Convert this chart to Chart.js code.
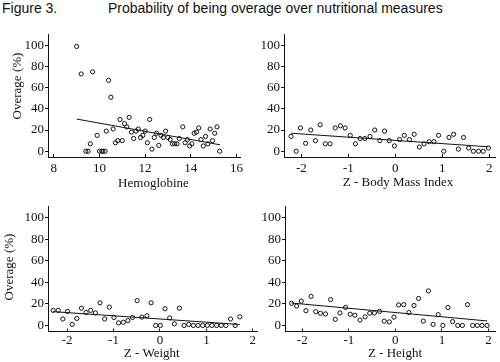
<!DOCTYPE html>
<html>
<head>
<meta charset="utf-8">
<script src="https://cdn.jsdelivr.net/npm/chart.js@4.4.1/dist/chart.umd.min.js"></script>
<style>
  html, body { margin: 0; padding: 0; background: #fff; }
  #wrap { position: relative; width: 500px; height: 362px; overflow: hidden; }
  .fig { position: absolute; top: 0; font-family: "Liberation Sans", Arial, sans-serif; font-size: 14px; color: #111; line-height: 16px; }
  canvas { position: absolute; }
</style>
</head>
<body>
<div id="wrap">
  <div class="fig" style="left:2px;">Figure 3.</div>
  <div class="fig" style="left:108px;">Probability of being overage over nutritional measures</div>
  <canvas id="c1" width="250" height="174" style="left:0;top:26px"></canvas>
  <canvas id="c2" width="250" height="174" style="left:250px;top:26px"></canvas>
  <canvas id="c3" width="262" height="164" style="left:0;top:198px"></canvas>
  <canvas id="c4" width="250" height="164" style="left:250px;top:198px"></canvas>
</div>
<script>
// --- DATA ---
const yTicks = [0, 20, 40, 60, 80, 100];
const hbTicks = [8, 10, 12, 14, 16];
const zTicks = [-2, -1, 0, 1, 2];

// Hemoglobine
const hbX = [9.0, 9.2, 9.7, 10.4, 10.5, 9.4, 9.5, 9.6, 9.9, 10.0, 10.1, 10.15, 10.25, 10.3, 10.6, 10.7, 10.8, 10.9, 11.0,
  11.1, 11.2, 11.3, 11.4, 11.5, 11.6, 11.7, 11.8, 11.9, 12.0, 12.1, 12.2, 12.3, 12.4, 12.5, 12.6, 12.7, 12.8, 12.9,
  13.0, 13.1, 13.2, 13.3, 13.4, 13.5, 13.65, 13.75, 13.85, 13.95, 14.05, 14.15, 14.25, 14.35, 14.45, 14.55, 14.65,
  14.75, 14.85, 14.95, 15.05, 15.15, 15.27];
const hbY = [99, 73, 75, 67, 51, 0, 0, 7, 15, 0, 0, 0, 0, 19, 21, 8, 10, 30, 10,
  26, 23, 32, 18, 12, 19, 21, 13, 15, 19, 8, 30, 2, 13, 17, 5.5, 15, 13, 19,
  13, 11, 7, 7, 7, 12, 23, 8, 11, 5, 7, 17, 18, 22, 11, 5, 14,
  7, 21, 10, 17, 23, 0];
const hbFitX = [9.0, 15.28];
const hbFitY = [30.4, 6.1];

// Z - Body Mass Index
const bmiX = [-2.22, -2.11, -2.02, -1.91, -1.80, -1.70, -1.60, -1.49, -1.39, -1.28, -1.17, -1.07, -0.96, -0.85,
  -0.75, -0.65, -0.54, -0.44, -0.33, -0.23, -0.13, -0.02, 0.09, 0.19, 0.30, 0.40, 0.51, 0.61, 0.72, 0.82,
  0.92, 1.03, 1.14, 1.24, 1.34, 1.45, 1.56, 1.66, 1.77, 1.87, 1.98];
const bmiY = [14, 0, 22, 7.5, 20, 10, 25, 7, 7, 22, 24, 22, 15, 7,
  12, 12, 14, 20, 10, 19, 10, 5, 11, 15, 11, 16, 4, 7, 9, 9,
  15, 0, 13, 16, 2, 13, 3, 0, 0, 0, 3];
const bmiFitX = [-2.22, 1.98];
const bmiFitY = [17, 4.2];

// Z - Weight
const wX = [-2.30, -2.19, -2.09, -1.99, -1.89, -1.79, -1.69, -1.59, -1.49, -1.39, -1.29, -1.19, -1.09, -0.99,
  -0.89, -0.79, -0.69, -0.59, -0.49, -0.39, -0.28, -0.19, -0.09, 0.01, 0.11, 0.21, 0.31, 0.42, 0.52, 0.62,
  0.72, 0.82, 0.92, 1.02, 1.12, 1.22, 1.32, 1.42, 1.52, 1.62, 1.72];
const wY = [14, 14, 6, 13, 1, 6.5, 16, 12, 14, 11.6, 21, 6, 17, 7.4,
  2.4, 3, 4.5, 7.4, 23, 7.7, 9, 21, 0, 0, 15.5, 7, 1.5, 16, 0, 1,
  0, 0, 0, 0, 0, 0, 0, 0, 6, 0, 8];
const wFitX = [-2.3, 1.72];
const wFitY = [12.8, 0.9];

// Z - Height
const hX = [-2.23, -2.12, -2.02, -1.92, -1.81, -1.71, -1.61, -1.50, -1.39, -1.29, -1.19, -1.07, -0.97, -0.87,
  -0.76, -0.65, -0.55, -0.45, -0.34, -0.24, -0.13, -0.03, 0.07, 0.18, 0.29, 0.40, 0.50, 0.60, 0.71, 0.81,
  0.92, 1.02, 1.13, 1.23, 1.34, 1.44, 1.55, 1.66, 1.76, 1.86, 1.97];
const hY = [20.5, 18, 22.6, 13.7, 27, 12.8, 11.3, 10.7, 24, 5.7, 11.6, 16.7, 10.4, 9.5,
  5, 8, 11.3, 11.6, 13, 4, 3.3, 7.7, 19, 19.3, 12, 18.5, 25, 4, 32, 1,
  10, 0, 16.7, 3.6, 0, 0, 19.3, 0, 0, 0, 0];
const hFitX = [-2.23, 1.97];
const hFitY = [20.8, 4.2];

// --- PANEL BUILDER ---
const ink = '#111';
const serif = "'Liberation Serif', 'Times New Roman', serif";
const zip = (xs, ys) => xs.map((x, i) => ({ x: x, y: ys[i] }));

// axis titles sit a little off-centre in the original figure, so place them by hand
const axisTitlePlugin = {
  id: 'axisTitles',
  afterDraw(chart, args, opts) {
    const c = chart.ctx;
    (opts.items || []).forEach(t => {
      c.save();
      c.translate(t.x, t.y);
      if (t.rotate) c.rotate(-Math.PI / 2);
      c.font = `13px ${serif}`;
      c.fillStyle = ink;
      c.textAlign = 'center';
      c.textBaseline = 'middle';
      c.fillText(t.text, 0, 0);
      c.restore();
    });
  }
};

function makePanel(id, p) {
  const ctx = document.getElementById(id).getContext('2d');
  return new Chart(ctx, {
    type: 'scatter',
    data: {
      datasets: [
        {
          data: zip(p.xs, p.ys),
          pointRadius: 2.1, pointBorderWidth: 1,
          pointBorderColor: ink, pointBackgroundColor: 'rgba(255,255,255,0)'
        },
        {
          type: 'line',
          data: zip(p.fitX, p.fitY),
          borderColor: ink, borderWidth: 1, pointRadius: 0, fill: false
        }
      ]
    },
    plugins: [axisTitlePlugin],
    options: {
      responsive: false, animation: false, devicePixelRatio: 1,
      layout: { padding: p.pad },
      plugins: {
        legend: { display: false }, tooltip: { enabled: false },
        axisTitles: { items: p.titles }
      },
      scales: {
        x: {
          type: 'linear', min: p.xMin, max: p.xMax,
          afterBuildTicks: s => { s.ticks = p.xTicks.map(v => ({ value: v })); },
          afterFit: s => { s.height = p.xH; },
          border: { color: ink, width: 1 },
          grid: { drawOnChartArea: false, tickLength: -3, color: ink },
          ticks: { color: ink, padding: p.xTickPad, maxRotation: 0, font: { family: serif, size: 13 } }
        },
        y: {
          type: 'linear', min: p.yMin, max: 110,
          afterBuildTicks: s => { s.ticks = yTicks.map(v => ({ value: v })); },
          afterFit: s => { s.width = p.yW; },
          border: { color: ink, width: 1 },
          grid: { drawOnChartArea: false, tickLength: 3, color: ink },
          ticks: { color: ink, padding: 1, font: { family: serif, size: 13 } }
        }
      }
    }
  });
}

makePanel('c1', {
  xs: hbX, ys: hbY, fitX: hbFitX, fitY: hbFitY, xTicks: hbTicks,
  xMin: 7.745, xMax: 16.2, yMin: -5.45,
  titles: [
    { text: 'Hemoglobine', x: 153.5, y: 157.5 },
    { text: 'Overage (%)', x: 17.5, y: 60, rotate: true }
  ],
  pad: { left: 0, right: 3, top: 4, bottom: 0 }, yW: 48, xH: 43, xTickPad: 7
});
makePanel('c2', {
  xs: bmiX, ys: bmiY, fitX: bmiFitX, fitY: bmiFitY, xTicks: zTicks,
  xMin: -2.37, xMax: 2.12, yMin: -5.45,
  titles: [{ text: 'Z - Body Mass Index', x: 148, y: 156.7 }],
  pad: { left: 0, right: 5, top: 4, bottom: 0 }, yW: 34, xH: 43, xTickPad: 7
});
makePanel('c3', {
  xs: wX, ys: wY, fitX: wFitX, fitY: wFitY, xTicks: zTicks,
  xMin: -2.41, xMax: 2.09, yMin: -5.6,
  titles: [
    { text: 'Z - Weight', x: 151.7, y: 156 },
    { text: 'Overage (%)', x: 10, y: 69, rotate: true }
  ],
  pad: { left: 0, right: 4, top: 4, bottom: 0 }, yW: 48, xH: 30.5, xTickPad: 4.5
});
makePanel('c4', {
  xs: hX, ys: hY, fitX: hFitX, fitY: hFitY, xTicks: zTicks,
  xMin: -2.37, xMax: 2.14, yMin: -5.6,
  titles: [{ text: 'Z - Height', x: 145, y: 156 }],
  pad: { left: 0, right: 3, top: 4, bottom: 0 }, yW: 35, xH: 30.5, xTickPad: 4.5
});
</script>
</body>
</html>
